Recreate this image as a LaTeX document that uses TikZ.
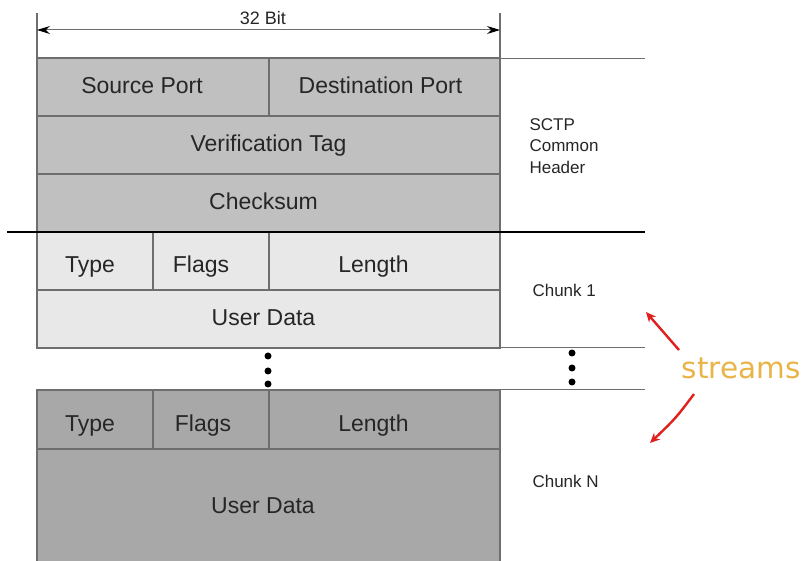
\documentclass[tikz,border=0pt]{standalone}
\usepackage{fontspec}
\setmainfont{Liberation Sans}
\newfontfamily\streamfont{DejaVu Sans}
\usetikzlibrary{arrows.meta}
\definecolor{hdrfill}{HTML}{C0C0C0}
\definecolor{cafill}{HTML}{E8E8E8}
\definecolor{cnfill}{HTML}{A8A8A8}
\definecolor{edge}{HTML}{6E6E6E}
\definecolor{streamorange}{HTML}{E9B447}
\definecolor{arrowred}{HTML}{E0201E}
\newcommand{\lft}[1]{\hspace*{#1pt}}
\begin{document}
\begin{tikzpicture}[x=1pt,y=-1pt,
  field/.style={draw=edge,line width=1.3pt,inner sep=0pt,outer sep=0pt,anchor=north west,
    font=\fontsize{23}{26}\selectfont,text=black!85,text height=18pt,text depth=4pt},
  lowfield/.style={field,text height=28pt},
  side/.style={font=\fontsize{17}{21.5}\selectfont,align=left,anchor=west,text=black!85},
  guide/.style={draw=edge,line width=1pt},
  dotmark/.style={circle,fill=black,inner sep=0pt,minimum size=7pt},
  redarrow/.style={draw=arrowred,line width=2.4pt,-{Stealth[length=10pt,width=9pt]}}]
\useasboundingbox (0,0) rectangle (804,561);
% 32 Bit dimension
\coordinate (dl) at (37,30);
\coordinate (dr) at (500,30);
\draw[edge,line width=1.2pt] (37,13) -- (37,58);
\draw[edge,line width=1.2pt] (500,13) -- (500,58);
\draw[edge,line width=1pt,{Stealth[length=13pt,width=8pt,black]}-{Stealth[length=13pt,width=8pt,black]}] (dl) -- (dr);
\node[font=\fontsize{18}{20}\selectfont,text=black!85] (bits) at (263,18) {32 Bit};
% common header
\node[field,fill=hdrfill,minimum width=232pt,minimum height=58pt] (sp) at (37,58) {Source Port\lft{22}};
\node[field,fill=hdrfill,minimum width=231pt,minimum height=58pt] (dp) at (269,58) {Destination Port\lft{8}};
\node[field,fill=hdrfill,minimum width=463pt,minimum height=58pt] (vt) at (37,116) {Verification Tag};
\node[field,fill=hdrfill,minimum width=463pt,minimum height=58pt] (cs) at (37,174) {Checksum\lft{10}};
% chunk 1
\node[lowfield,fill=cafill,minimum width=116pt,minimum height=58pt] (t1) at (37,232) {Type\lft{10}};
\node[lowfield,fill=cafill,minimum width=116pt,minimum height=58pt] (f1) at (153,232) {Flags\lft{20}};
\node[lowfield,fill=cafill,minimum width=231pt,minimum height=58pt] (l1) at (269,232) {Length\lft{22}};
\node[field,fill=cafill,minimum width=463pt,minimum height=58pt] (u1) at (37,290) {User Data\lft{10}};
% chunk N
\node[lowfield,fill=cnfill,minimum width=116pt,minimum height=59pt] (tn) at (37,390) {Type\lft{10}};
\node[lowfield,fill=cnfill,minimum width=116pt,minimum height=59pt] (fn) at (153,390) {Flags\lft{16}};
\node[lowfield,fill=cnfill,minimum width=231pt,minimum height=59pt] (ln) at (269,390) {Length\lft{22}};
\fill[cnfill] (37,449) rectangle (500,561);
\draw[edge,line width=1.3pt] (37,561) -- (37,449) -- (500,449) -- (500,561);
\node[font=\fontsize{23}{26}\selectfont,text=black!85,text height=18pt,text depth=4pt] (un) at (263,507) {User Data};
% guide lines
\coordinate (g1) at (645,58);
\coordinate (g2a) at (7,232);
\coordinate (g2b) at (645,232);
\coordinate (g3) at (645,348);
\coordinate (g4) at (645,390);
\draw[guide,line width=0.8pt] (dp.north east) -- (g1);
\draw[black,line width=1.6pt] (g2a) -- (g2b);
\draw[guide] (u1.south east) -- (g3);
\draw[guide] (ln.north east) -- (g4);
% dots
\node[dotmark] (d1) at (268,356) {};
\node[dotmark] (d2) at (268,371) {};
\node[dotmark] (d3) at (268,384) {};
\node[dotmark] (e1) at (572,353) {};
\node[dotmark] (e2) at (572,368) {};
\node[dotmark] (e3) at (572,382) {};
% side labels
\node[side] (hdr) at (526,146) {SCTP\\Common\\Header};
\node[side] (c1) at (529,290) {Chunk 1};
\node[side] (cn) at (529,481) {Chunk N};
% streams
\node[font=\streamfont\fontsize{29.5}{32}\selectfont,text=streamorange] (st) at (741,368) {streams};
\coordinate (a1) at (646,312);
\coordinate (a1t) at (679,350);
\coordinate (a2) at (650,443);
\coordinate (a2t) at (694,394);
\draw[redarrow] (a1t) .. controls (664,333) .. (a1);
\draw[redarrow] (a2t) .. controls (676,418) .. (a2);
\end{tikzpicture}
\end{document}
